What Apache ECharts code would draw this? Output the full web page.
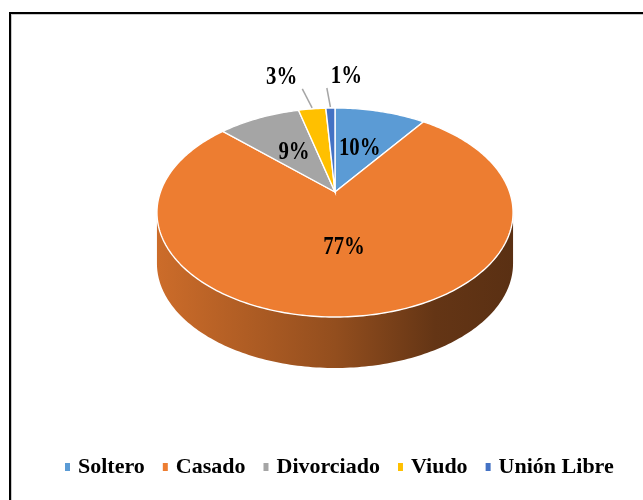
<!DOCTYPE html>
<html>
<head>
<meta charset="utf-8">
<script src="https://cdn.jsdelivr.net/npm/echarts@6/dist/echarts.min.js"></script>
<style>
  html, body { margin: 0; padding: 0; background: #fff; overflow: hidden; }
  #chart { position: absolute; left: 0; top: 0; width: 643px; height: 500px; }
  /* marco del gráfico (solo se ven los bordes superior e izquierdo) */
  #frame {
    position: absolute; left: 9px; top: 12px; width: 700px; height: 600px;
    border: 2px solid #000; box-shadow: inset 1px 1px 0 #c8c8c8;
  }
</style>
</head>
<body>
<div id="frame"></div>
<div id="chart"></div>
<script>
const categories = ['Soltero', 'Casado', 'Divorciado', 'Viudo', 'Unión Libre']
const shares = [10, 77, 9, 3, 1] // %
const colors = ['#5B9BD5', '#ED7D31', '#A5A5A5', '#FFC000', '#4472C4']

const chart = echarts.init(document.getElementById('chart'))

// inicio y fin de cada porción (fracción del total)
const total = shares.reduce((a, b) => a + b, 0)
let acc = 0
const sliceData = shares.map((v, i) => {
  const start = acc / total
  acc += v
  return { name: categories[i], value: [start, acc / total, v] }
})

// geometría del pastel 3D (proyección con perspectiva)
const apexX = 335, apexY = 192   // centro del pastel visto
const A = 174.6, B = 100.5       // semiejes
const persp = 0.196              // fuerza de la perspectiva
const depth = 51

function pt(t, r, dy) {
  const u = r * Math.sin(t), v = r * Math.cos(t)
  const d = 1 + persp * v
  return [apexX + A * u / d, apexY - B * v / d + (dy || 0)]
}

function arc(t0, t1, dy) {
  const pts = []
  const n = Math.max(2, Math.ceil((t1 - t0) / (Math.PI / 180)))
  for (let k = 0; k <= n; k++) pts.push(pt(t0 + (t1 - t0) * k / n, 1, dy))
  return pts
}

function shade(hex, f) {
  const c = echarts.color.parse(hex)
  return 'rgb(' + [0, 1, 2].map(i => Math.round(c[i] * f)).join(',') + ')'
}

const sideFrom = Math.acos(-persp)
const sideTo = Math.PI * 2 - sideFrom
const halfW = A / Math.sqrt(1 - persp * persp)

function renderSlice(params, api) {
  const idx = params.dataIndex
  const t0 = api.value(0) * Math.PI * 2
  const t1 = api.value(1) * Math.PI * 2
  const share = api.value(2)
  const color = colors[idx]
  const children = []

  // pared lateral (solo la parte frontal)
  const a0 = Math.max(t0, sideFrom)
  const a1 = Math.min(t1, sideTo)
  if (a0 < a1) {
    const top = arc(a0, a1, 0)
    const bottom = arc(a0, a1, depth).reverse()
    children.push({
      type: 'polygon',
      z2: 1,
      shape: { points: top.concat(bottom) },
      style: {
        fill: new echarts.graphic.LinearGradient(apexX - halfW, 0, apexX + halfW, 0, [
          { offset: 0, color: shade(color, 0.86) },
          { offset: 0.5, color: shade(color, 0.62) },
          { offset: 0.78, color: shade(color, 0.42) },
          { offset: 1, color: shade(color, 0.38) }
        ], true)
      }
    })
  }

  // cara superior
  children.push({
    type: 'polygon',
    z2: 5,
    shape: { points: [[apexX, apexY]].concat(arc(t0, t1, 0)) },
    style: { fill: color, stroke: '#fff', lineWidth: 1.4 }
  })

  // etiqueta
  const mid = (t0 + t1) / 2
  const font = 'bold 26px "Liberation Serif", "Times New Roman", serif'
  if (share >= 5) {
    const p = pt(mid, 0.5, 0)
    children.push({
      type: 'text',
      z2: 10,
      x: p[0],
      y: p[1],
      scaleX: 0.8,
      style: { text: share + '%', x: 0, y: 0, fill: '#000', font, align: 'center', verticalAlign: 'middle' }
    })
  } else {
    const edge = pt(mid, 1, 0)
    const ex = edge[0] + 50 * Math.sin(mid) - 2
    const ey = edge[1] - 20
    const last = idx === shares.length - 1
    children.push({
      type: 'line',
      z2: 9,
      shape: { x1: edge[0], y1: edge[1] - 1, x2: ex, y2: ey },
      style: { stroke: '#a6a6a6', lineWidth: 1.5 }
    })
    children.push({
      type: 'text',
      z2: 10,
      x: last ? ex + 4 : ex - 5,
      y: ey + 1,
      scaleX: 0.8,
      style: { text: share + '%', x: 0, y: 0, fill: '#000', font, align: last ? 'left' : 'right', verticalAlign: 'bottom' }
    })
  }

  return { type: 'group', children }
}

const option = {
  animation: false,
  color: colors,
  legend: {
    data: categories,
    top: 451,
    left: 60,
    icon: 'rect',
    itemWidth: 5,
    itemHeight: 8,
    itemGap: 18,
    selectedMode: false,
    textStyle: {
      fontFamily: '"Liberation Serif", "Times New Roman", serif',
      fontWeight: 'bold',
      fontSize: 22,
      color: '#000',
      padding: [0, 0, 0, 3]
    }
  },
  series: [
    {
      // solo para la leyenda
      type: 'pie',
      radius: [0, 0],
      center: [apexX, apexY],
      silent: true,
      label: { show: false },
      labelLine: { show: false },
      data: categories.map((c, i) => ({ name: c, value: shares[i] }))
    },
    {
      type: 'custom',
      coordinateSystem: 'none',
      renderItem: renderSlice,
      data: sliceData
    }
  ]
}

chart.setOption(option)
</script>
</body>
</html>
